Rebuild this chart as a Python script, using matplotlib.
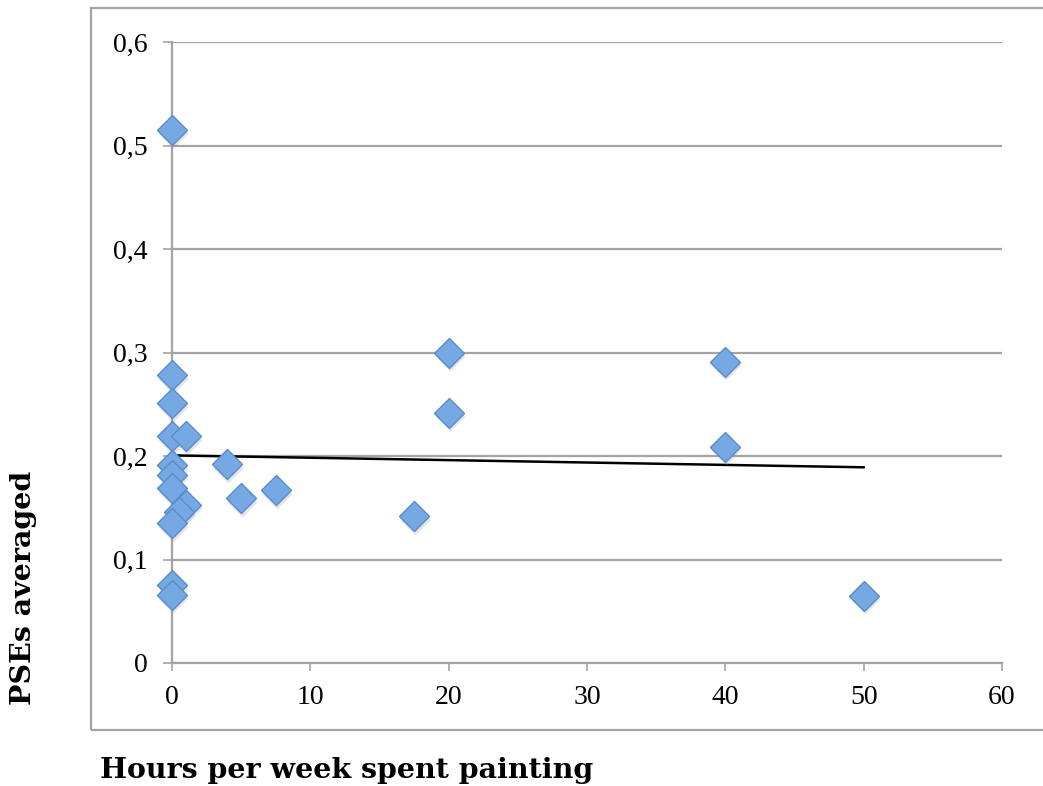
import numpy as np
import matplotlib
matplotlib.use("Agg")
import matplotlib.pyplot as plt
from matplotlib.patches import Rectangle
import matplotlib.transforms as mtransforms

# Hours per week spent painting vs. averaged PSE
hours = [0, 0, 0, 0, 1, 0, 0, 0, 1, 0.5, 0, 0, 0, 4, 5, 7.5, 17.5, 20, 20, 40, 40, 50]
pse = [0.515, 0.278, 0.251, 0.219, 0.219, 0.191, 0.182, 0.169, 0.153, 0.146,
       0.135, 0.075, 0.066, 0.192, 0.159, 0.167, 0.142, 0.300, 0.242, 0.291,
       0.209, 0.065]

x_ticks = [0, 10, 20, 30, 40, 50, 60]
y_ticks = [0, 0.1, 0.2, 0.3, 0.4, 0.5, 0.6]
y_tick_labels = ["0", "0,1", "0,2", "0,3", "0,4", "0,5", "0,6"]

W, H = 1043, 786
fig = plt.figure(figsize=(W / 100, H / 100), dpi=100)
fig.patch.set_facecolor("white")

gray = "#a3a3a3"

# outer chart frame
fig.patches.append(Rectangle((91 / W, 1 - 730 / H), (1045 - 91) / W, (730 - 8) / H,
                             transform=fig.transFigure, fill=False,
                             edgecolor=gray, linewidth=1.6))

ax = fig.add_axes([172 / W, 1 - 663 / H, 830 / W, (663 - 42) / H])
ax.set_xlim(0, 60)
ax.set_ylim(0, 0.6)

for s in ("top", "right"):
    ax.spines[s].set_visible(False)
for s in ("left", "bottom"):
    ax.spines[s].set_color(gray)
    ax.spines[s].set_linewidth(1.6)

ax.set_yticks(y_ticks)
ax.set_yticklabels(y_tick_labels)
ax.set_xticks(x_ticks)
ax.yaxis.grid(True, color=gray, linewidth=1.6)
ax.set_axisbelow(True)

tick_font = dict(family="Liberation Serif", size=20)
ax.tick_params(axis="y", length=6.5, width=1.2, color=gray, pad=11)
ax.tick_params(axis="x", length=5.5, width=1.2, color=gray, pad=10)
for lab in ax.get_xticklabels() + ax.get_yticklabels():
    lab.set_fontfamily(tick_font["family"])
    lab.set_fontsize(tick_font["size"])

# linear trend line over the data range
coef = np.polyfit(hours, pse, 1)
xt = np.array([min(hours), max(hours)])
ax.plot(xt, np.polyval(coef, xt), color="black", linewidth=1.8, zorder=2)

# soft drop shadow under each marker
shadow = mtransforms.offset_copy(ax.transData, fig=fig, x=1.0, y=-3.5, units="dots")
ax.plot(hours, pse, linestyle="none", marker="D", markersize=15.5,
        markerfacecolor="#9a9a9a", markeredgecolor="none", alpha=0.25,
        transform=shadow, clip_on=False, zorder=3)
ax.plot(hours, pse, linestyle="none", marker="D", markersize=15.5,
        markerfacecolor="#76a8e4", markeredgecolor="#5a8cca",
        markeredgewidth=1.0, clip_on=False, zorder=4)

title_font = dict(family="DejaVu Serif", weight="bold", size=20.5)
fig.text(347 / W, 1 - 770 / H, "Hours per week spent painting",
         ha="center", va="center", **title_font)
fig.text(24 / W, 1 - 588 / H, "PSEs averaged", rotation=90,
         ha="center", va="center", **title_font)

fig.savefig("out.png", dpi=100, facecolor="white")
